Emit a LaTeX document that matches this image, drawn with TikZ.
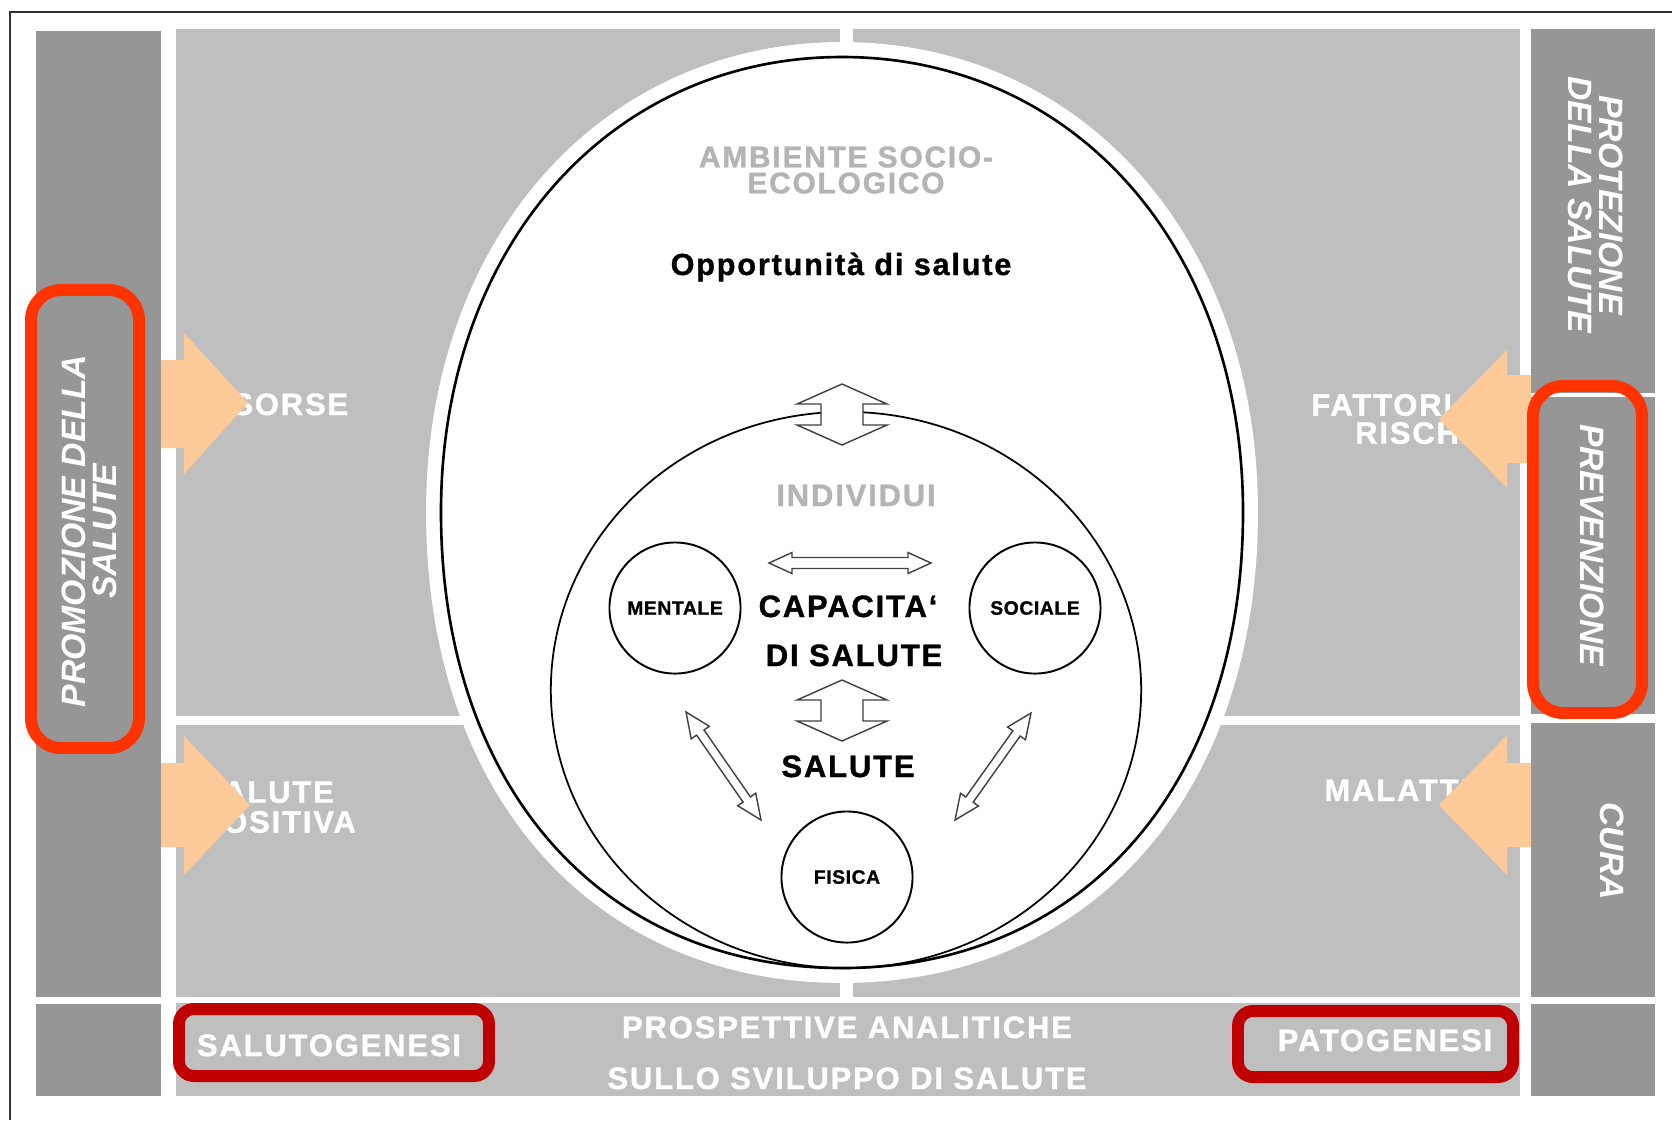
\documentclass[tikz,border=0pt]{standalone}
\usepackage{fontspec}
\setmainfont{Liberation Sans}
\newfontfamily\trackfont{Liberation Sans}[LetterSpace=6, BoldFeatures={FakeBold=1.2}]
\newfontfamily\opfont{Liberation Sans}[LetterSpace=6, BoldFeatures={FakeBold=1}]
\newfontfamily\smallfont{Liberation Sans}[LetterSpace=3, BoldFeatures={FakeBold=1}]
\usetikzlibrary{calc}

\definecolor{panelgrey}{RGB}{191,191,191}
\definecolor{bargrey}{RGB}{150,150,150}
\definecolor{peach}{RGB}{252,202,152}
\definecolor{hotred}{RGB}{255,51,0}
\definecolor{darkred}{RGB}{192,0,0}
\definecolor{titlegrey}{RGB}{180,180,180}

\tikzset{
  panel/.style={fill=panelgrey},
  bar/.style={fill=bargrey},
  bigarrow/.style={fill=peach},
  whitecaps/.style={text=white, inner sep=0pt, font=\trackfont\bfseries\fontsize{8.8}{8.5}\selectfont},
  blackcaps/.style={text=black, inner sep=0pt, font=\trackfont\bfseries\fontsize{8.8}{8.8}\selectfont},
  greycaps/.style={text=titlegrey, inner sep=0pt, font=\trackfont\bfseries\fontsize{8.5}{7.4}\selectfont},
  sidelabel/.style={text=white, inner sep=0pt, align=center, font=\bfseries\itshape\fontsize{9.6}{8.8}\selectfont},
  ring/.style={circle, draw, line width=0.55pt, minimum size=1.31cm, inner sep=0pt, font=\smallfont\bfseries\fontsize{5.5}{5.5}\selectfont},
  inarrow/.style={draw=black!75, fill=white, line width=0.4pt},
  redbox/.style={draw=hotred, line width=3.4pt, rounded corners=0.3cm},
  darkbox/.style={draw=darkred, line width=3.4pt, rounded corners=0.15cm},
}

% double block arrow: from, to, head length, head half width, shaft half width
\newcommand{\dblarrow}[5]{%
  \path ($(#1)!#3!(#2)$) coordinate (ha)
        ($(#2)!#3!(#1)$) coordinate (hb);
  \draw[inarrow] (#1) -- ($(ha)!#4!90:(#2)$) -- ($(ha)!#5!90:(#2)$)
    -- ($(hb)!#5!-90:(#1)$) -- ($(hb)!#4!-90:(#1)$) -- (#2)
    -- ($(hb)!#4!90:(#1)$) -- ($(hb)!#5!90:(#1)$)
    -- ($(ha)!#5!-90:(#2)$) -- ($(ha)!#4!-90:(#2)$) -- cycle;}

\begin{document}
\begin{tikzpicture}[x=0.01cm, y=-0.01cm]
\useasboundingbox (0,0) rectangle (1672,1120);
\fill[white] (0,0) rectangle (1672,1120);
\draw[black!80, line width=0.45pt] (10,1120) -- (10,12) -- (1672,12);

% side bars
\fill[bar] (36,31) rectangle (161,997);
\fill[bar] (36,1004) rectangle (161,1096);
\fill[bar] (1531,29) rectangle (1655,393);
\fill[bar] (1531,397) rectangle (1655,714);
\fill[bar] (1531,723) rectangle (1655,997);
\fill[bar] (1531,1004) rectangle (1655,1096);

% grey panels
\fill[panel] (176,29) rectangle (840,716);
\fill[panel] (853,29) rectangle (1520,716);
\fill[panel] (176,725) rectangle (840,997);
\fill[panel] (853,725) rectangle (1520,997);
\fill[panel] (176,1003) rectangle (1520,1096);

% labels in the panels
\node[whitecaps, anchor=base west] (risorse) at (197,415) {RISORSE};
\node[whitecaps, anchor=west, align=left] (salpos) at (200,807) {SALUTE\\POSITIVA};
\node[whitecaps, anchor=east, align=right, font=\trackfont\bfseries\fontsize{8.8}{8}\selectfont] (fattori) at (1496,419) {FATTORI DI\\RISCHIO};
\node[whitecaps, anchor=base east] (malattia) at (1494,801) {MALATTIA};

% socio-ecological environment
\path[fill=white, draw=white, line width=8.5pt] (441,512) .. controls (441,248) and (609,57) .. (842,57)
  .. controls (1075,57) and (1243,248) .. (1243,512) .. controls (1243,786) and (1083,968) .. (842,968)
  .. controls (601,968) and (441,786) .. (441,512) -- cycle;
\draw[line width=0.75pt] (441,512) .. controls (441,248) and (609,57) .. (842,57)
  .. controls (1075,57) and (1243,248) .. (1243,512) .. controls (1243,786) and (1083,968) .. (842,968)
  .. controls (601,968) and (441,786) .. (441,512) -- cycle;
\draw[line width=0.5pt] (846,690) ellipse [x radius=2.95cm, y radius=2.78cm];

\node[greycaps, align=center] (ambiente) at (846,170) {AMBIENTE SOCIO-\\ECOLOGICO};
\node[anchor=base, inner sep=0pt, font=\opfont\bfseries\fontsize{8.7}{8.7}\selectfont] (opport) at (841,275) {Opportunità di salute};
\node[greycaps, anchor=base, font=\trackfont\bfseries\fontsize{8.8}{8.8}\selectfont] (individui) at (856,506) {INDIVIDUI};
\node[blackcaps, anchor=base] (capacita) at (848,617) {CAPACITA‘};
\node[blackcaps, anchor=base] (disalute) at (854,666) {DI SALUTE};
\node[blackcaps, anchor=base] (salute) at (848,777) {SALUTE};

\node[ring] (mentale) at (675,608) {MENTALE};
\node[ring] (sociale) at (1035,608) {SOCIALE};
\node[ring] (fisica) at (847,877) {FISICA};

% inner arrows
\coordinate (topa) at (842,384);
\coordinate (topb) at (842,445);
\coordinate (mida) at (842,680);
\coordinate (midb) at (842,741);
\coordinate (hora) at (769,563);
\coordinate (horb) at (931,563);
\coordinate (lefta) at (686,712);
\coordinate (leftb) at (761,820);
\coordinate (righta) at (1031,713);
\coordinate (rightb) at (955,820);
\dblarrow{topa}{topb}{0.2cm}{0.45cm}{0.21cm}
\dblarrow{mida}{midb}{0.2cm}{0.45cm}{0.21cm}
\dblarrow{hora}{horb}{0.23cm}{0.105cm}{0.055cm}
\dblarrow{lefta}{leftb}{0.25cm}{0.11cm}{0.045cm}
\dblarrow{righta}{rightb}{0.25cm}{0.11cm}{0.045cm}

% orange arrows
\fill[bigarrow] (161,360) -- (184,360) -- (184,333) -- (248,403) -- (184,474) -- (184,448) -- (161,448) -- cycle;
\fill[bigarrow] (161,763) -- (184,763) -- (184,736) -- (250,805) -- (184,875) -- (184,847) -- (161,847) -- cycle;
\fill[bigarrow] (1531,375) -- (1507,375) -- (1507,350) -- (1439,419) -- (1507,488) -- (1507,463) -- (1531,463) -- cycle;
\fill[bigarrow] (1531,763) -- (1507,763) -- (1507,735) -- (1439,805) -- (1507,875) -- (1507,847) -- (1531,847) -- cycle;

% bar labels
\node[sidelabel, rotate=90] (promozione) at (89,531) {PROMOZIONE DELLA\\SALUTE};
\node[sidelabel, rotate=-90] (protezione) at (1596,205) {PROTEZIONE\\DELLA SALUTE};
\node[sidelabel, rotate=-90] (prevenzione) at (1592,545) {PREVENZIONE};
\node[sidelabel, rotate=-90] (cura) at (1612,851) {CURA};

% bottom band
\node[whitecaps, anchor=base] (prosp) at (847,1038) {PROSPETTIVE ANALITICHE};
\node[whitecaps, anchor=base] (sviluppo) at (847,1089) {SULLO SVILUPPO DI SALUTE};
\node[whitecaps, anchor=base] (salutogenesi) at (329,1056) {SALUTOGENESI};
\node[whitecaps, anchor=base] (patogenesi) at (1385,1051) {PATOGENESI};

% highlight boxes
\draw[redbox] (31,290) rectangle (139,748);
\draw[redbox] (1533,386) rectangle (1642,713);
\draw[darkbox] (179,1009) rectangle (489,1076);
\draw[darkbox] (1238,1011) rectangle (1513,1077);
\end{tikzpicture}
\end{document}
